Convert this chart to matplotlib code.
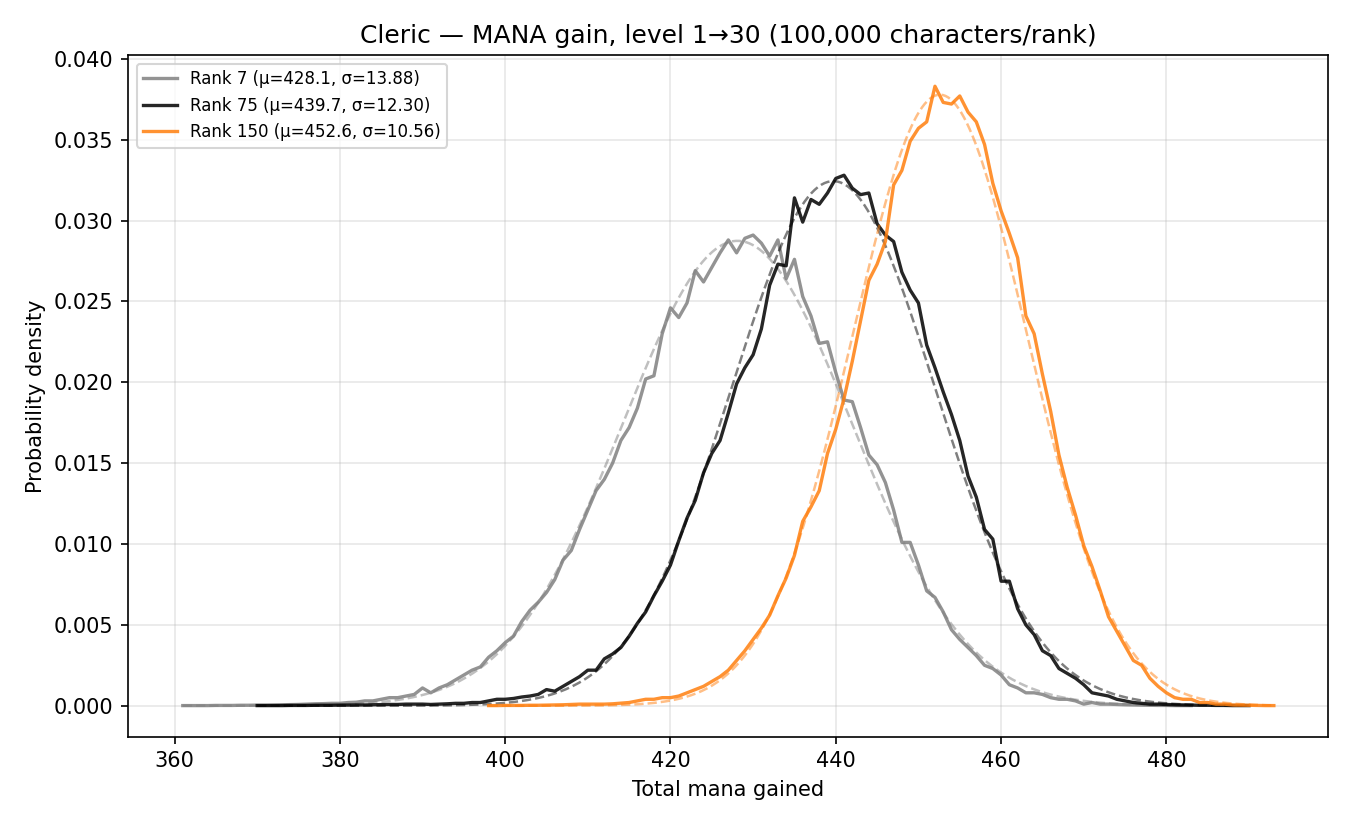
import matplotlib
matplotlib.use('Agg')
import matplotlib.pyplot as plt
import numpy as np

# histogram densities, one value per integer mana total
rank7_start = 361
rank7 = [
    0.00001, 0.00001, 0.00001, 0.00001, 0.00002, 0.00002, 0.00002, 0.00003, 0.00003, 0.00004,
    0.00004, 0.00005, 0.00006, 0.00007, 0.00008, 0.0001, 0.00012, 0.00013, 0.00015, 0.00015,
    0.0002, 0.00022, 0.0003, 0.0003, 0.0004, 0.0005, 0.0005, 0.0006, 0.0007, 0.0011,
    0.0008, 0.0011, 0.0013, 0.0016, 0.0019, 0.0022, 0.0024, 0.0030, 0.0034, 0.0039,
    0.0043, 0.0052, 0.0059, 0.0064, 0.0070, 0.0078, 0.0090, 0.0096, 0.0109, 0.0121,
    0.0133, 0.0140, 0.0150, 0.0164, 0.0172, 0.0184, 0.0202, 0.0204, 0.0230, 0.0246,
    0.0240, 0.0249, 0.0269, 0.0262, 0.0271, 0.0280, 0.0288, 0.0280, 0.0289, 0.0291,
    0.0286, 0.0278, 0.0288, 0.0264, 0.0276, 0.0253, 0.0241, 0.0224, 0.0225, 0.0206,
    0.0189, 0.0188, 0.0172, 0.0155, 0.0149, 0.0138, 0.0121, 0.0101, 0.0101, 0.0087,
    0.0071, 0.0067, 0.0058, 0.0047, 0.0041, 0.0036, 0.0031, 0.0025, 0.0023, 0.0019,
    0.0013, 0.0011, 0.0008, 0.0008, 0.0007, 0.0005, 0.0004, 0.0004, 0.0003, 0.0001,
    0.0002, 0.0001, 0.0001, 0.00008, 0.00006, 0.00005, 0.00004, 0.00003, 0.00002, 0.00002,
    0.00001, 0.00001, 0.00001,
]

rank75_start = 370
rank75 = [
    0.00001, 0.00001, 0.00001, 0.00001, 0.00002, 0.00002, 0.00002, 0.00003, 0.00003, 0.00003,
    0.00004, 0.00004, 0.00005, 0.00005, 0.00006, 0.00007, 0.00008, 0.00008, 0.0001, 0.0001,
    0.0001, 0.00008, 0.0001, 0.00012, 0.00015, 0.00015, 0.0002, 0.0002, 0.0003, 0.0004,
    0.0004, 0.00045, 0.00054, 0.0006, 0.0007, 0.0010, 0.0009, 0.0012, 0.0015, 0.0018,
    0.0022, 0.0022, 0.0029, 0.0032, 0.0036, 0.0043, 0.0051, 0.0058, 0.0068, 0.0077,
    0.0087, 0.0102, 0.0116, 0.0127, 0.0144, 0.0156, 0.0164, 0.0181, 0.0199, 0.0209,
    0.0217, 0.0233, 0.0260, 0.0273, 0.0272, 0.0314, 0.0299, 0.0313, 0.0310, 0.0317,
    0.0326, 0.0328, 0.0320, 0.0316, 0.0317, 0.0298, 0.0291, 0.0287, 0.0268, 0.0257,
    0.0249, 0.0223, 0.0209, 0.0194, 0.0180, 0.0164, 0.0142, 0.0129, 0.0109, 0.0103,
    0.0077, 0.0077, 0.0060, 0.0050, 0.0044, 0.0034, 0.0031, 0.0023, 0.0020, 0.0017,
    0.0013, 0.0008, 0.0007, 0.0006, 0.0004, 0.0003, 0.0002, 0.00015, 0.0001, 0.0001,
    0.00008, 0.00006, 0.00005, 0.00004, 0.00003, 0.00003, 0.00002, 0.00002, 0.00001, 0.00001,
    0.00001,
]

rank150_start = 398
rank150 = [
    0.00001, 0.00001, 0.00002, 0.00002, 0.00002, 0.00003, 0.00003, 0.00004, 0.00005, 0.00006,
    0.00008, 0.0001, 0.0001, 0.0001, 0.0001, 0.00012, 0.00016, 0.0002, 0.0003, 0.0004,
    0.0004, 0.0005, 0.0005, 0.0006, 0.0008, 0.0010, 0.0012, 0.0015, 0.0018, 0.0022,
    0.0028, 0.0034, 0.0041, 0.0048, 0.0056, 0.0068, 0.0079, 0.0093, 0.0114, 0.0123,
    0.0133, 0.0156, 0.0171, 0.0190, 0.0213, 0.0238, 0.0263, 0.0273, 0.0287, 0.0322,
    0.0331, 0.0349, 0.0357, 0.0361, 0.0383, 0.0373, 0.0372, 0.0377, 0.0367, 0.0361,
    0.0347, 0.0323, 0.0306, 0.0292, 0.0277, 0.0241, 0.0230, 0.0205, 0.0182, 0.0155,
    0.0135, 0.0118, 0.0099, 0.0086, 0.0071, 0.0055, 0.0046, 0.0037, 0.0028, 0.0025,
    0.0017, 0.0012, 0.0008, 0.0005, 0.0004, 0.0004, 0.0002, 0.0002, 0.0001, 0.0001,
    0.00005, 0.00004, 0.00003, 0.00002, 0.00001, 0.00001,
]

ranks = [7, 75, 150]
means = [428.1, 439.7, 452.6]
sigmas = [13.88, 12.30, 10.56]
colors = ['gray', 'black', '#ff7f0e']


def main():
    fig = plt.figure(figsize=(9, 5.5), dpi=150)
    ax = fig.add_subplot(111)
    fig.subplots_adjust(left=0.095, right=0.984, top=0.933, bottom=0.107)

    series = [(rank7_start, rank7), (rank75_start, rank75), (rank150_start, rank150)]
    for (start, dens), rank, mu, sd, c in zip(series, ranks, means, sigmas, colors):
        x = np.arange(start, start + len(dens))
        ax.plot(x, dens, color=c, lw=1.6, alpha=0.85,
                label=f'Rank {rank} (\u03bc={mu:.1f}, \u03c3={sd:.2f})')
        # normal fit with the legend's mean / sd
        xf = np.linspace(x[0], x[-1], 300)
        pdf = np.exp(-0.5 * ((xf - mu) / sd) ** 2) / (sd * np.sqrt(2 * np.pi))
        ax.plot(xf, pdf, color=c, lw=1.2, ls='--', alpha=0.5)

    ax.set_title('Cleric \u2014 MANA gain, level 1\u219230 (100,000 characters/rank)', fontsize=12)
    ax.set_xlabel('Total mana gained', fontsize=10)
    ax.set_ylabel('Probability density', fontsize=10)
    ax.grid(True, alpha=0.3)
    ax.legend(loc='upper left', fontsize=8)

    fig.savefig('out.png', dpi=150)


if __name__ == '__main__':
    main()
